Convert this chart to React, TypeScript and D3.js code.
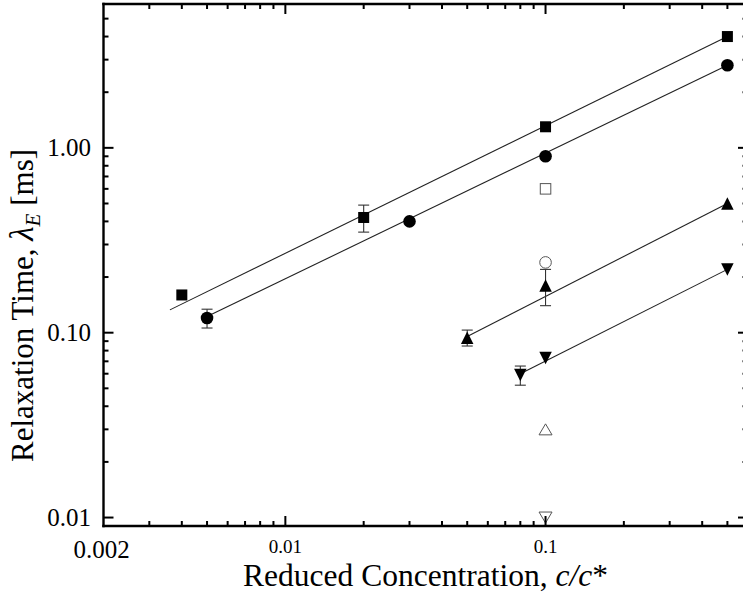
import React from "react";
import * as d3 from "d3";

// ---- data ----
const sqX = [0.004, 0.02, 0.1, 0.5];
const sqY = [0.16, 0.42, 1.3, 4.0];
const sqErr = [0, 0.07, 0, 0];

const ciX = [0.005, 0.03, 0.1, 0.5];
const ciY = [0.12, 0.4, 0.9, 2.8];
const ciErr = [0.014, 0, 0, 0];

const tuX = [0.05, 0.1, 0.5];
const tuY = [0.094, 0.18, 0.5];
const tuErr = [0.0093, 0.04, 0];

const tdX = [0.08, 0.1, 0.5];
const tdY = [0.059, 0.073, 0.22];
const tdErr = [0.007, 0, 0];

const openX = 0.1;
const openSqY = 0.6;
const openCiY = 0.24;
const openTuY = 0.03;
const openTdY = 0.01;

// fit lines: y = A * x^b over [x0, x1]
const fitSq = { A: 6.45, b: 0.69, x0: 0.0036, x1: 0.5 };
const fitCi = { A: 4.486, b: 0.68, x0: 0.005, x1: 0.5 };
const fitTu = { A: 0.824, b: 0.72, x0: 0.05, x1: 0.5 };
const fitTd = { A: 0.36, b: 0.71, x0: 0.08, x1: 0.5 };

const xMajor = [0.01, 0.1];
const yMajor = [0.01, 0.1, 1];
const yLabels = ["0.01", "0.10", "1.00"];

const W = 743;
const H = 594;
const L = 103.5, R = 748, T = 4, B = 526;

export default function App() {
  const x = d3.scaleLog().domain([0.002, 0.6]).range([L, R]);
  const y = d3.scaleLog().domain([0.009, 6]).range([B, T]);

  const xMinor: number[] = [];
  for (const dec of [0.001, 0.01, 0.1]) {
    for (let k = 2; k <= 9; k++) {
      const v = dec * k;
      if (v > 0.002 && v < 0.6 && Math.abs(v - 0.01) > 1e-9 && Math.abs(v - 0.1) > 1e-9) xMinor.push(v);
    }
  }
  const yMinor: number[] = [];
  for (const dec of [0.001, 0.01, 0.1, 1]) {
    for (let k = 2; k <= 9; k++) {
      const v = dec * k;
      if (v > 0.009 && v < 6) yMinor.push(v);
    }
  }

  const font = "'Liberation Serif', 'Times New Roman', serif";

  const fitLine = (f: { A: number; b: number; x0: number; x1: number }, key: string) => (
    <line
      key={key}
      x1={x(f.x0)}
      y1={y(f.A * Math.pow(f.x0, f.b))}
      x2={x(f.x1)}
      y2={y(f.A * Math.pow(f.x1, f.b))}
      stroke="#222"
      strokeWidth={1.1}
    />
  );

  const errBar = (xv: number, yv: number, e: number, key: string) => {
    if (!e) return null;
    const cx = x(xv);
    const yt = y(yv + e);
    const yb = y(yv - e);
    return (
      <g key={key} stroke="#333" strokeWidth={1.1}>
        <line x1={cx} x2={cx} y1={yt} y2={yb} />
        <line x1={cx - 5.5} x2={cx + 5.5} y1={yt} y2={yt} />
        <line x1={cx - 5.5} x2={cx + 5.5} y1={yb} y2={yb} />
      </g>
    );
  };

  const square = (cx: number, cy: number, s: number, filled: boolean, key: string) => (
    <rect
      key={key}
      x={cx - s / 2}
      y={cy - s / 2}
      width={s}
      height={s}
      fill={filled ? "#000" : "#fff"}
      stroke={filled ? "#000" : "#555"}
      strokeWidth={filled ? 0 : 1}
    />
  );
  const circle = (cx: number, cy: number, r: number, filled: boolean, key: string) => (
    <circle
      key={key}
      cx={cx}
      cy={cy}
      r={r}
      fill={filled ? "#000" : "#fff"}
      stroke={filled ? "#000" : "#555"}
      strokeWidth={filled ? 0 : 1}
    />
  );
  const tri = (cx: number, cy: number, w: number, h: number, up: boolean, filled: boolean, key: string) => {
    const d = up
      ? `M${cx},${cy - h / 2}L${cx + w / 2},${cy + h / 2}L${cx - w / 2},${cy + h / 2}Z`
      : `M${cx},${cy + h / 2}L${cx + w / 2},${cy - h / 2}L${cx - w / 2},${cy - h / 2}Z`;
    return (
      <path
        key={key}
        d={d}
        fill={filled ? "#000" : "#fff"}
        stroke={filled ? "#000" : "#555"}
        strokeWidth={filled ? 0 : 1}
      />
    );
  };

  return (
    <svg width={W} height={H} style={{ position: "absolute", left: 0, top: 0 }}>
      <rect x={0} y={0} width={W} height={H} fill="#fff" />

      {/* fit lines */}
      {fitLine(fitSq, "fs")}
      {fitLine(fitCi, "fc")}
      {fitLine(fitTu, "ft")}
      {fitLine(fitTd, "fd")}

      {/* error bars */}
      {sqX.map((v, i) => errBar(v, sqY[i], sqErr[i], "es" + i))}
      {ciX.map((v, i) => errBar(v, ciY[i], ciErr[i], "ec" + i))}
      {tuX.map((v, i) => errBar(v, tuY[i], tuErr[i], "et" + i))}
      {tdX.map((v, i) => errBar(v, tdY[i], tdErr[i], "ed" + i))}

      {/* filled markers */}
      {sqX.map((v, i) => square(x(v), y(sqY[i]), 11, true, "s" + i))}
      {ciX.map((v, i) => circle(x(v), y(ciY[i]), 6.3, true, "c" + i))}
      {tuX.map((v, i) => tri(x(v), y(tuY[i]), 12.5, 12.5, true, true, "t" + i))}
      {tdX.map((v, i) => tri(x(v), y(tdY[i]), 12.5, 12.5, false, true, "d" + i))}

      {/* open markers */}
      {square(x(openX), y(openSqY), 10.5, false, "os")}
      {circle(x(openX), y(openCiY), 5.8, false, "oc")}
      {tri(x(openX), y(openTuY), 13, 11, true, false, "ot")}
      {tri(x(openX), y(openTdY), 13, 11, false, false, "od")}

      {/* axes frame */}
      <g stroke="#000" strokeWidth={2.4} fill="none">
        <line x1={L} x2={L} y1={T - 1.2} y2={B + 1.2} />
        <line x1={R} x2={R} y1={T - 1.2} y2={B + 1.2} />
        <line x1={L - 1.2} x2={R + 1.2} y1={B} y2={B} />
        <line x1={L - 1.2} x2={R + 1.2} y1={T} y2={T} />
      </g>

      {/* ticks */}
      <g stroke="#000" strokeWidth={2}>
        {xMajor.map((v) => (
          <g key={"xm" + v}>
            <line x1={x(v)} x2={x(v)} y1={B} y2={B - 10} />
            <line x1={x(v)} x2={x(v)} y1={T} y2={T + 10} />
          </g>
        ))}
        {xMinor.map((v) => (
          <g key={"xn" + v}>
            <line x1={x(v)} x2={x(v)} y1={B} y2={B - 5} />
            <line x1={x(v)} x2={x(v)} y1={T} y2={T + 5} />
          </g>
        ))}
        {yMajor.map((v) => (
          <g key={"ym" + v}>
            <line x1={L} x2={L + 10} y1={y(v)} y2={y(v)} />
            <line x1={R} x2={R - 10} y1={y(v)} y2={y(v)} />
          </g>
        ))}
        {yMinor.map((v) => (
          <g key={"yn" + v}>
            <line x1={L} x2={L + 5} y1={y(v)} y2={y(v)} />
            <line x1={R} x2={R - 5.5} y1={y(v)} y2={y(v)} />
          </g>
        ))}
      </g>

      {/* tick labels */}
      <g fontFamily={font} fill="#000">
        {yMajor.map((v, i) => (
          <text key={"yl" + v} x={91} y={y(v)} dy="0.34em" fontSize={25} textAnchor="end">
            {yLabels[i]}
          </text>
        ))}
        <text x={101.5} y={558} fontSize={25} textAnchor="middle">0.002</text>
        {xMajor.map((v) => (
          <text key={"xl" + v} x={x(v)} y={553} fontSize={19} textAnchor="middle">
            {String(v)}
          </text>
        ))}
      </g>

      {/* axis titles */}
      <text x={243} y={586} fontFamily={font} fontSize={31} textAnchor="start" textLength={365} lengthAdjust="spacingAndGlyphs">
        Reduced Concentration, <tspan fontStyle="italic">c/c</tspan>*
      </text>
      <text
        transform="translate(33,462) rotate(-90)"
        fontFamily={font}
        fontSize={31}
        textAnchor="start"
      >
        Relaxation Time, <tspan fontStyle="italic" fontSize={33}>λ</tspan>
        <tspan fontStyle="italic" fontSize={21} dy={7}>E</tspan>
        <tspan dy={-7}> [ms]</tspan>
      </text>
    </svg>
  );
}
